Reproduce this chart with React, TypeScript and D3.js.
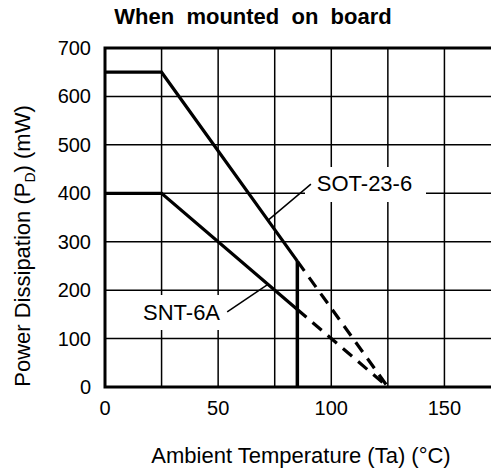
import React from 'react';
import * as d3 from 'd3';

// derating curves
const sotTemp = [0, 25, 85];
const sotPower = [650, 650, 260];
const sotDashTemp = [85, 125];
const sotDashPower = [260, 0];

const sntTemp = [0, 25, 85];
const sntPower = [400, 400, 160];
const sntDashTemp = [85, 125];
const sntDashPower = [160, 0];

const cutoffTemp = [85, 85];
const cutoffPower = [260, 0];

const xTicks = [0, 50, 100, 150];
const xGrid = [25, 50, 75, 100, 125, 150];
const yTicks = [0, 100, 200, 300, 400, 500, 600, 700];

const W = 491;
const H = 474;
const FONT = '"Liberation Sans", Arial, sans-serif';

type Pt = [number, number];
const zip = (a: number[], b: number[]): Pt[] => a.map((v, i) => [v, b[i]]);

export default function App() {
  const x = d3.scaleLinear([0, 175], [105, 501]);
  const y = d3.scaleLinear([0, 700], [387, 48]);
  const line = d3
    .line<Pt>()
    .x((d) => x(d[0]))
    .y((d) => y(d[1]));

  return (
    <svg
      width={W}
      height={H}
      style={{ position: 'absolute', left: 0, top: 0, background: '#fff', overflow: 'hidden' }}
      fontFamily={FONT}
    >
      <text x={253} y={24} textAnchor="middle" fontSize={22} fontWeight="bold" style={{ whiteSpace: 'pre' }}>
        {'When  mounted  on  board'}
      </text>

      {/* grid */}
      {xGrid.map((t) => (
        <line key={'gx' + t} x1={x(t)} x2={x(t)} y1={y(0)} y2={y(700)} stroke="#000" strokeWidth={1.5} />
      ))}
      {yTicks.slice(1, -1).map((t) => (
        <line key={'gy' + t} x1={x(0)} x2={x(175)} y1={y(t)} y2={y(t)} stroke="#000" strokeWidth={1.5} />
      ))}

      {/* label boxes hide the grid */}
      <rect x={305} y={167} width={121} height={35} fill="#fff" />
      <rect x={136} y={295} width={94} height={35} fill="#fff" />

      {/* leader lines */}
      <path d={line([[91, 419], [72, 344]]) ?? ''} stroke="#000" strokeWidth={1.5} fill="none" />
      <path d={line([[54, 155], [72, 212]]) ?? ''} stroke="#000" strokeWidth={1.5} fill="none" />

      <text x={x(93.6)} y={y(405)} fontSize={22}>SOT-23-6</text>
      <text x={x(16.8)} y={y(138)} fontSize={22}>SNT-6A</text>

      {/* curves */}
      <path d={line(zip(sotTemp, sotPower)) ?? ''} stroke="#000" strokeWidth={3.2} fill="none" />
      <path d={line(zip(sntTemp, sntPower)) ?? ''} stroke="#000" strokeWidth={3.2} fill="none" />
      <path d={line(zip(sotDashTemp, sotDashPower)) ?? ''} stroke="#000" strokeWidth={3.2} fill="none" strokeDasharray="12 8" />
      <path d={line(zip(sntDashTemp, sntDashPower)) ?? ''} stroke="#000" strokeWidth={3.2} fill="none" strokeDasharray="12 8" />
      <path d={line(zip(cutoffTemp, cutoffPower)) ?? ''} stroke="#000" strokeWidth={3.5} fill="none" />

      {/* frame */}
      <rect x={x(0)} y={y(700)} width={x(175) - x(0)} height={y(0) - y(700)} fill="none" stroke="#000" strokeWidth={3} />

      {/* ticks */}
      {yTicks.map((t) => (
        <text key={'ty' + t} x={91} y={y(t) + 7} textAnchor="end" fontSize={20}>
          {t}
        </text>
      ))}
      {xTicks.map((t) => (
        <text key={'tx' + t} x={x(t)} y={415} textAnchor="middle" fontSize={20}>
          {t}
        </text>
      ))}

      <text x={301} y={463} textAnchor="middle" fontSize={22}>
        Ambient Temperature (Ta) (°C)
      </text>
      <text transform="translate(30,246) rotate(-90)" textAnchor="middle" fontSize={22}>
        Power Dissipation (P
        <tspan fontSize={14} dy={5}>D</tspan>
        <tspan dy={-5}>) (mW)</tspan>
      </text>
    </svg>
  );
}
